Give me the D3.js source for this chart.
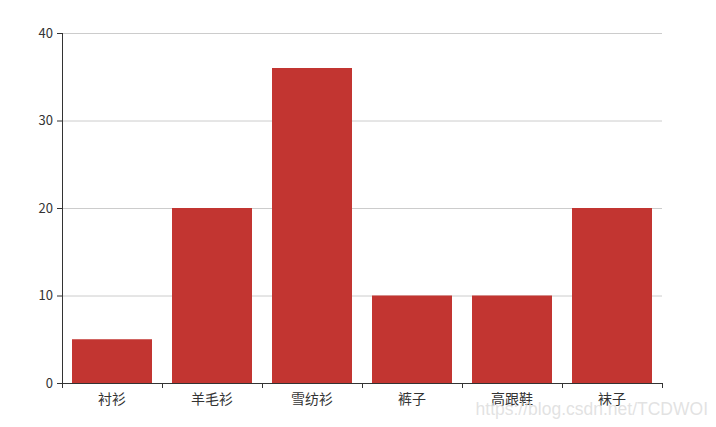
<!DOCTYPE html>
<html>
<head>
<meta charset="utf-8">
<script src="https://cdn.jsdelivr.net/npm/d3@7"></script>
<style>
  body { margin: 0; background: #fff; }
  text { font-family: "Noto Sans CJK SC", "DejaVu Sans", sans-serif; }
</style>
</head>
<body>
<svg id="drawing_region"></svg>
<script>
const categories = ['衬衫', '羊毛衫', '雪纺衫', '裤子', '高跟鞋', '袜子'];
const sales = [5, 20, 36, 10, 10, 20];
const yTicks = [0, 10, 20, 30, 40];

const config = {
    width: 716,
    height: 427,
    margin: {top: 33, right: 54, bottom: 44, left: 62}
};

const svg = d3.select('#drawing_region')
    .attr('width', config.width)
    .attr('height', config.height);

const inner_width = config.width - config.margin.left - config.margin.right;
const inner_height = config.height - config.margin.top - config.margin.bottom;

const chart = svg.append('g')
    .attr('transform', `translate(${config.margin.left}, ${config.margin.top})`);

const xscale = d3.scaleBand()
    .domain(categories)
    .range([0, inner_width])
    .paddingInner(0.2)
    .paddingOuter(0.1);

const bandScale = d3.scaleBand().domain(categories).range([0, inner_width]);

const yscale = d3.scaleLinear()
    .domain([0, 40])
    .range([inner_height, 0]);

// grid lines
chart.append('g')
    .selectAll('line')
    .data(yTicks.filter(d => d > 0))
    .join('line')
    .attr('x1', 0)
    .attr('x2', inner_width)
    .attr('y1', d => yscale(d) + 0.5)
    .attr('y2', d => yscale(d) + 0.5)
    .attr('stroke', '#ccc');

// bars
chart.append('g')
    .selectAll('rect')
    .data(sales)
    .join('rect')
    .attr('x', (d, i) => xscale(categories[i]))
    .attr('y', d => yscale(d))
    .attr('width', xscale.bandwidth())
    .attr('height', d => inner_height - yscale(d))
    .attr('fill', '#c23531');

// y axis
const yaxis_group = chart.append('g')
    .call(d3.axisLeft(yscale).tickValues(yTicks).tickSize(5).tickPadding(4));
yaxis_group.select('.domain').attr('stroke', '#333').attr('d', `M0.5,0V${inner_height}`);
yaxis_group.selectAll('.tick line').attr('stroke', '#333');
yaxis_group.selectAll('text')
    .attr('fill', '#333')
    .style('font-size', '13px');

// x axis: ticks on band boundaries
const xaxis_group = chart.append('g')
    .attr('transform', `translate(0, ${inner_height})`);
xaxis_group.append('line')
    .attr('x1', 0).attr('x2', inner_width)
    .attr('y1', 0.5).attr('y2', 0.5)
    .attr('stroke', '#333');
const boundaries = categories.map(c => bandScale(c)).concat([inner_width]);
xaxis_group.selectAll('.xtick')
    .data(boundaries)
    .join('line')
    .attr('class', 'xtick')
    .attr('x1', d => Math.round(d) + 0.5)
    .attr('x2', d => Math.round(d) + 0.5)
    .attr('y1', 0)
    .attr('y2', 5)
    .attr('stroke', '#333');
xaxis_group.selectAll('.xlabel')
    .data(categories)
    .join('text')
    .attr('class', 'xlabel')
    .attr('x', d => bandScale(d) + bandScale.bandwidth() / 2)
    .attr('y', 21)
    .attr('text-anchor', 'middle')
    .attr('fill', '#333')
    .style('font-size', '14px')
    .text(d => d);

// watermark
svg.append('text')
    .attr('x', 708)
    .attr('y', 415)
    .attr('text-anchor', 'end')
    .attr('fill', '#ddd')
    .attr('fill-opacity', 0.85)
    .style('font-family', '"Liberation Sans", Arial, sans-serif')
    .style('font-size', '17.5px')
    .text('https://blog.csdn.net/TCDWOI');
</script>
</body>
</html>
